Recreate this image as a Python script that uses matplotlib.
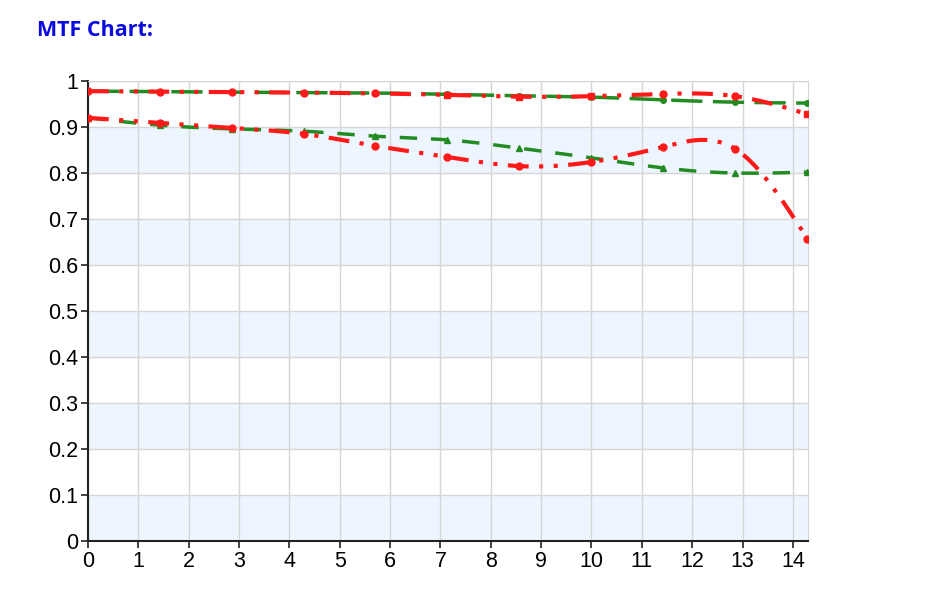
import numpy as np
import matplotlib
matplotlib.use("Agg")
import matplotlib.pyplot as plt

# field positions (mm) and MTF values
field = [0, 1.43, 2.86, 4.29, 5.71, 7.14, 8.57, 10.0, 11.43, 12.86, 14.29]
green_top = [0.978, 0.977, 0.976, 0.975, 0.974, 0.971, 0.968, 0.965, 0.959, 0.954, 0.952]
green_low = [0.920, 0.904, 0.896, 0.891, 0.880, 0.872, 0.854, 0.833, 0.811, 0.800, 0.802]
red_top = [0.978, 0.977, 0.976, 0.975, 0.973, 0.970, 0.966, 0.967, 0.972, 0.967, 0.928]
red_low = [0.920, 0.909, 0.898, 0.885, 0.859, 0.835, 0.815, 0.824, 0.857, 0.852, 0.657]
yticks = [0, 0.1, 0.2, 0.3, 0.4, 0.5, 0.6, 0.7, 0.8, 0.9, 1]
xticks = list(range(15))


def spline(x, y, n=300):
    # natural cubic spline, just for drawing a smooth line through the points
    x = np.asarray(x, float); y = np.asarray(y, float)
    h = np.diff(x)
    m = len(x)
    A = np.zeros((m, m)); b = np.zeros(m)
    A[0, 0] = A[-1, -1] = 1
    for i in range(1, m - 1):
        A[i, i - 1] = h[i - 1]; A[i, i] = 2 * (h[i - 1] + h[i]); A[i, i + 1] = h[i]
        b[i] = 6 * ((y[i + 1] - y[i]) / h[i] - (y[i] - y[i - 1]) / h[i - 1])
    M = np.linalg.solve(A, b)
    xs = np.linspace(x[0], x[-1], n)
    k = np.clip(np.searchsorted(x, xs) - 1, 0, m - 2)
    t0 = x[k + 1] - xs; t1 = xs - x[k]; hk = h[k]
    ys = (M[k] * t0**3 + M[k + 1] * t1**3) / (6 * hk) \
        + (y[k] / hk - M[k] * hk / 6) * t0 + (y[k + 1] / hk - M[k + 1] * hk / 6) * t1
    return xs, ys


fig = plt.figure(figsize=(9.48, 6.12), dpi=100)
ax = fig.add_axes([0.0928, 0.116, 0.7595, 0.7516])
plt.rcParams['font.family'] = ['Liberation Sans', 'DejaVu Sans']

for lo in np.arange(0, 1, 0.2):
    ax.axhspan(lo, lo + 0.1, color="#edf6fe", zorder=0)

ax.set_xlim(0, 14.3)
ax.set_ylim(0, 1)
ax.set_xticks(xticks)
ax.set_yticks(yticks)
ax.set_yticklabels([f"{v:g}" for v in yticks])
ax.grid(True, color="#d6d6d6", linewidth=1, zorder=1)
ax.set_axisbelow(True)
for s in ["top", "right"]:
    ax.spines[s].set_color("#d6d6d6")
for s in ["left", "bottom"]:
    ax.spines[s].set_color("#222222")
    ax.spines[s].set_linewidth(1.5)
ax.tick_params(labelsize=15.5, length=5, width=1.2, colors="#222222", labelcolor="black", pad=2)
for lab in ax.get_xticklabels() + ax.get_yticklabels():
    lab.set_family(['Liberation Sans', 'DejaVu Sans'])

g = "#228b22"
r = "#ff1a1a"

xs, ys = spline(field, green_top)
ax.plot(xs, ys, color=g, lw=2.5, dashes=(9, 3), zorder=3)
ax.plot(field, green_top, "o", color=g, ms=4, zorder=3)

xs, ys = spline(field, green_low)
ax.plot(xs, ys, color=g, lw=2.5, dashes=(5, 4), zorder=3)
ax.plot(field, green_low, "^", color=g, ms=5, zorder=3)

xs, ys = spline(field, red_top)
ax.plot(xs, ys, color=r, lw=3, dashes=(5, 2.5, 1, 2.5, 1, 2.5), zorder=4)
ax.plot(field[:5], red_top[:5], "o", color=r, ms=5, zorder=4)
ax.plot(field[5:8], red_top[5:8], "s", color=r, ms=5, zorder=4)
ax.plot(field[8:10], red_top[8:10], "o", color=r, ms=5, zorder=4)
ax.plot(field[10:], red_top[10:], "s", color=r, ms=5, zorder=4)

xs, ys = spline(field, red_low)
ax.plot(xs, ys, color=r, lw=3, dashes=(5, 2.5, 1, 2.5, 1, 2.5), zorder=4)
ax.plot(field, red_low, "o", color=r, ms=5, zorder=4)

fig.text(0.039, 0.95, "MTF Chart:", color="#0a0ae0", fontsize=15.5, fontweight="bold",
         family=["Open Sans", "DejaVu Sans"], va="center")

fig.savefig("out.png", dpi=100)
